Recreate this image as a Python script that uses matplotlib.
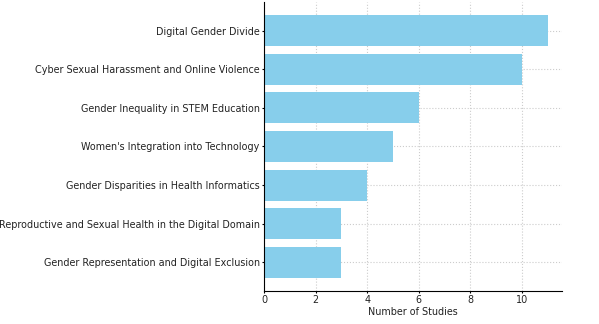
import matplotlib
matplotlib.use("Agg")
import matplotlib.pyplot as plt

# Topics and study counts, smallest first so the largest ends up on top
topics = [
    "Gender Representation and Digital Exclusion",
    "Reproductive and Sexual Health in the Digital Domain",
    "Gender Disparities in Health Informatics",
    "Women's Integration into Technology",
    "Gender Inequality in STEM Education",
    "Cyber Sexual Harassment and Online Violence",
    "Digital Gender Divide",
]
counts = [3, 3, 4, 5, 6, 10, 11]

fig = plt.figure(figsize=(5.99, 3.24), dpi=100)
ax = fig.add_axes([0.4407, 0.102, 0.4975, 0.892])

ax.barh(topics, counts, color="skyblue", zorder=2)
ax.set_xlabel("Number of Studies", fontsize=6.9, labelpad=1.5, color="#222222")
ax.tick_params(axis="both", labelsize=6.9, length=1.6, pad=1.5, labelcolor="#222222")

ax.grid(True, linestyle=":", color="#cccccc", linewidth=0.8, zorder=0)
ax.spines["top"].set_visible(False)
ax.spines["right"].set_visible(False)

fig.savefig("out.png", dpi=100)
